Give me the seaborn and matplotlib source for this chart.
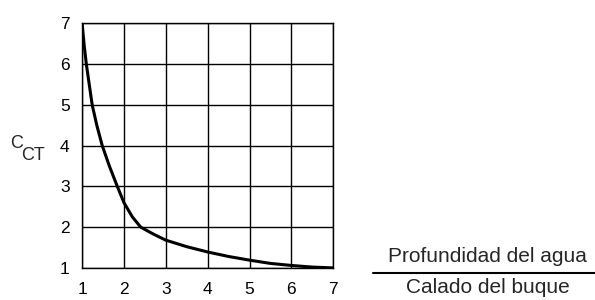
import numpy as np
import pandas as pd
import matplotlib
matplotlib.use('Agg')
import matplotlib.pyplot as plt
import seaborn as sns

# Curve (depth/draft ratio vs C_CT)
ratio = [1.0, 1.05, 1.1, 1.17, 1.24, 1.35, 1.48, 1.65, 1.84, 2.0, 2.2, 2.4, 2.7, 3.0, 3.5, 4.0, 4.5, 5.0, 5.5, 6.0, 6.5, 7.0]
cct = [7.0, 6.45, 6.0, 5.5, 5.0, 4.5, 4.0, 3.5, 3.0, 2.6, 2.25, 2.0, 1.83, 1.68, 1.52, 1.39, 1.28, 1.19, 1.11, 1.06, 1.02, 1.0]
x_ticks = [1, 2, 3, 4, 5, 6, 7]
y_ticks = [1, 2, 3, 4, 5, 6, 7]

sns.set_style('white')
plt.rcParams['font.family'] = ['Liberation Sans', 'DejaVu Sans']

fig = plt.figure(figsize=(5.95, 3.0), dpi=100)
ax = fig.add_axes([0.138, 0.107, 0.422, 0.816])

df = pd.DataFrame({'ratio': ratio, 'cct': cct})
sns.lineplot(data=df, x='ratio', y='cct', ax=ax, color='black', linewidth=2.2)

ax.set_xlim(1, 7)
ax.set_ylim(1, 7)
ax.set_xticks(x_ticks)
ax.set_yticks(y_ticks)
ax.grid(True, color='black', linewidth=1.0)
for s in ax.spines.values():
    s.set_color('black')
    s.set_linewidth(1.0)
ax.tick_params(length=0, labelsize=12.5, colors='black')
ax.tick_params(axis='x', pad=10)
ax.tick_params(axis='y', pad=9)
ax.set_xlabel('')
ax.set_ylabel('')

# y label: C with subscript CT
fig.text(0.017, 0.523, 'C', fontsize=13, ha='left', va='center')
fig.text(0.035, 0.483, 'CT', fontsize=13, ha='left', va='center')

# x label as a fraction
fig.text(0.82, 0.128, 'Profundidad del agua', fontsize=15, ha='center', va='baseline')
fig.add_artist(plt.Line2D([0.627, 1.0], [0.09, 0.09], color='black', linewidth=1.5))
fig.text(0.82, 0.022, 'Calado del buque', fontsize=15, ha='center', va='baseline')

fig.savefig('out.png', dpi=100)
